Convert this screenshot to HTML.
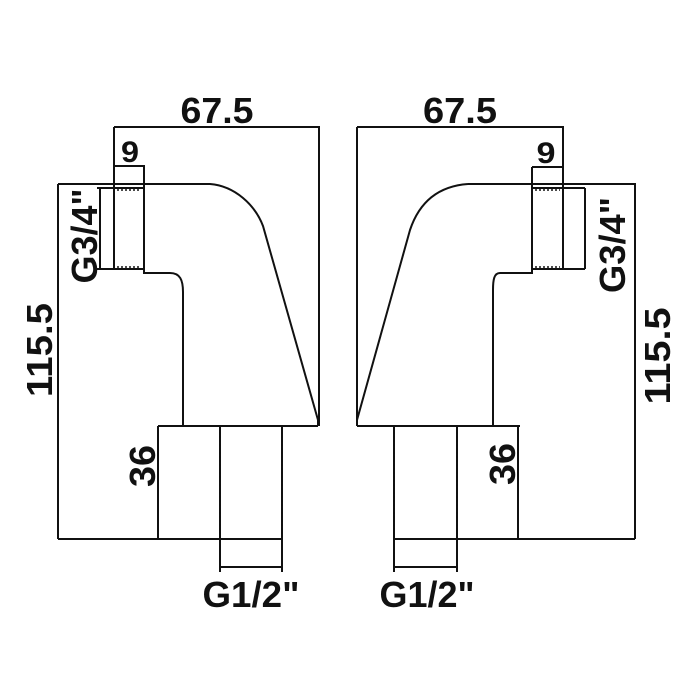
<!DOCTYPE html>
<html><head><meta charset="utf-8"><style>
html,body{margin:0;padding:0;background:#fff}
svg{display:block}
text{font-family:"Liberation Sans",Arial,sans-serif;font-weight:bold;fill:#111}
</style></head><body>
<svg width="700" height="700" viewBox="0 0 700 700" xmlns="http://www.w3.org/2000/svg">
<g fill="none" stroke="#111" stroke-width="2">
<!-- LEFT PIECE -->
<path d="M114 127 H319 V426"/>
<path d="M114 127 V269"/>
<path d="M114 166 H144 V188"/>
<path d="M58 184 H210 C235 186 255 205 263 226 L318 420 V426"/>
<path d="M58 184 V539"/>
<path d="M114 188 H144 V269 H114"/>
<path d="M97 188 H114 M97 269 H114 M100 188 V269"/>
<path d="M144 269 V273 H170 C180 273 183 280 183 292 V426"/>
<path d="M158 426 H318"/>
<path d="M158 426 V539"/>
<path d="M58 539 H282"/>
<path d="M220 426 V572 M282 426 V572"/>
<path d="M220 567 H282"/>
<!-- RIGHT PIECE -->
<path d="M357 127 H563 V188"/>
<path d="M357 127 V426"/>
<path d="M532 167 H563 M532 167 V188"/>
<path d="M468 184 H635 V539"/>
<path d="M468 184 C440 186 420 200 410 230 L357 420"/>
<path d="M532 188 H563 V269 H532 Z"/>
<path d="M563 188 H585 M563 269 H585 M585 188 V269"/>
<path d="M532 269 V273 H500 C494 273 493 280 493 290 V426"/>
<path d="M357 426 H520"/>
<path d="M518 426 V539"/>
<path d="M394 539 H635"/>
<path d="M394 426 V572 M457 426 V572"/>
<path d="M394 567 H457"/>
</g>
<g fill="none" stroke="#111" stroke-width="1.5" stroke-dasharray="2 2">
<path d="M117 190 H141 M117 267 H141 M220 428 V537 M282 428 V537"/>
<path d="M535 190 H560 M535 267 H560 M394 428 V537 M457 428 V537"/>
</g>
<!-- LEFT labels -->
<text x="217" y="123" font-size="36" text-anchor="middle" textLength="73" lengthAdjust="spacingAndGlyphs">67.5</text>
<text x="130" y="162" font-size="30" text-anchor="middle" textLength="18" lengthAdjust="spacingAndGlyphs">9</text>
<text transform="translate(97,236) rotate(-90)" font-size="36" text-anchor="middle" textLength="95" lengthAdjust="spacingAndGlyphs">G3/4"</text>
<text transform="translate(52,350) rotate(-90)" font-size="36" text-anchor="middle" textLength="94" lengthAdjust="spacingAndGlyphs">115.5</text>
<text transform="translate(155,466) rotate(-90)" font-size="36" text-anchor="middle" textLength="42" lengthAdjust="spacingAndGlyphs">36</text>
<text x="251" y="607" font-size="36" text-anchor="middle" textLength="97" lengthAdjust="spacingAndGlyphs">G1/2"</text>
<!-- RIGHT labels -->
<text x="460" y="123" font-size="36" text-anchor="middle" textLength="74" lengthAdjust="spacingAndGlyphs">67.5</text>
<text x="546" y="163" font-size="30" text-anchor="middle" textLength="19" lengthAdjust="spacingAndGlyphs">9</text>
<text transform="translate(625,245) rotate(-90)" font-size="36" text-anchor="middle" textLength="96" lengthAdjust="spacingAndGlyphs">G3/4"</text>
<text transform="translate(670,356) rotate(-90)" font-size="36" text-anchor="middle" textLength="97" lengthAdjust="spacingAndGlyphs">115.5</text>
<text transform="translate(515,464) rotate(-90)" font-size="36" text-anchor="middle" textLength="42" lengthAdjust="spacingAndGlyphs">36</text>
<text x="427" y="607" font-size="36" text-anchor="middle" textLength="95" lengthAdjust="spacingAndGlyphs">G1/2"</text>
</svg>
</body></html>
